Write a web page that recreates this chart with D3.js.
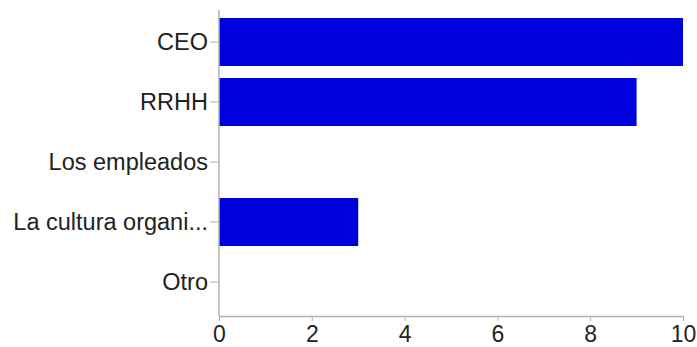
<!DOCTYPE html>
<html>
<head>
<meta charset="utf-8">
<script src="https://cdn.jsdelivr.net/npm/d3@7"></script>
<style>
  body { margin: 0; background: #fff; }
  text { font-family: "Liberation Sans", Arial, sans-serif; fill: #222; }
</style>
</head>
<body>
<svg id="chart"></svg>
<script>
// data
var categories = ["CEO", "RRHH", "Los empleados", "La cultura organi...", "Otro"];
var counts = [10, 9, 0, 3, 0];
var xTicks = [0, 2, 4, 6, 8, 10];

var dimensions = {
    width: 697,
    height: 347,
    margin: { top: 12, bottom: 31, right: 14, left: 219 }
};

var svg = d3.select("#chart")
    .attr("width", dimensions.width)
    .attr("height", dimensions.height);

var data = categories.map((c, i) => ({ name: c, value: counts[i] }));

var xScale = d3.scaleLinear()
    .domain([0, 10])
    .range([dimensions.margin.left, 683]);

var yScale = d3.scaleBand()
    .domain(categories)
    .range([dimensions.margin.top, 312])
    .paddingInner(0.2)
    .paddingOuter(0.1);

var axisY = 316;

// bars
svg.selectAll(".bar")
    .data(data)
    .enter()
    .append("rect")
    .attr("class", "bar")
    .attr("x", xScale(0))
    .attr("y", d => yScale(d.name))
    .attr("width", d => xScale(d.value) - xScale(0))
    .attr("height", yScale.bandwidth())
    .attr("fill", "#0000dc");

// x axis
var xAxis = svg.append("g")
    .attr("transform", `translate(0, ${axisY})`)
    .call(d3.axisBottom(xScale).tickValues(xTicks).tickSize(5).tickSizeOuter(0).tickPadding(5));
xAxis.select(".domain").attr("stroke", "#b0b0b0").attr("stroke-width", 1.5);
xAxis.selectAll(".tick line").attr("stroke", "#b0b0b0");
xAxis.selectAll(".tick text")
    .style("font-size", "23px")
    .style("font-family", "'Liberation Sans', Arial, sans-serif")
    .attr("fill", "#222");

// y axis
var yAxis = svg.append("g")
    .attr("transform", `translate(${dimensions.margin.left}, 0)`)
    .call(d3.axisLeft(yScale).tickSize(9).tickSizeOuter(0).tickPadding(2));
yAxis.select(".domain").remove();
yAxis.append("line")
    .attr("x1", 0).attr("x2", 0)
    .attr("y1", 10).attr("y2", axisY)
    .attr("stroke", "#b0b0b0")
    .attr("stroke-width", 1.5);
yAxis.selectAll(".tick line").attr("stroke", "#b0b0b0");
yAxis.selectAll(".tick text")
    .style("font-size", "23.5px")
    .style("font-family", "'Liberation Sans', Arial, sans-serif")
    .attr("fill", "#222");
</script>
</body>
</html>
